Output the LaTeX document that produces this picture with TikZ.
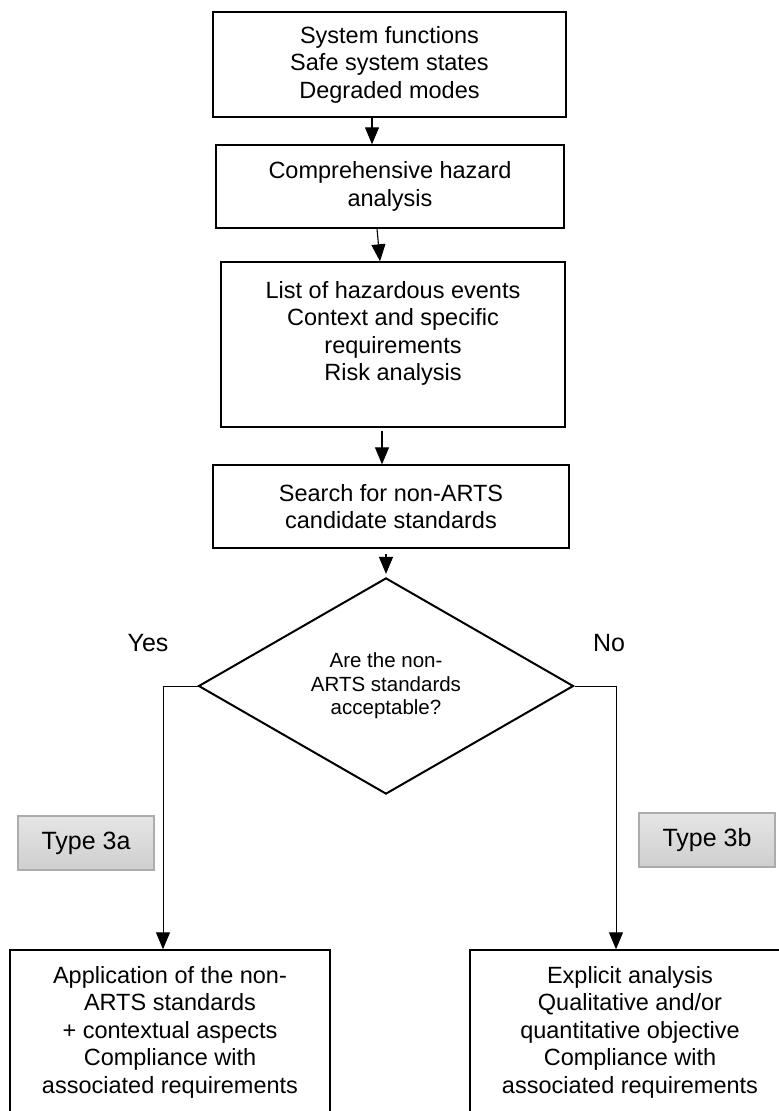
\documentclass[tikz,border=0pt]{standalone}
\usepackage{fontspec}
\setmainfont{Liberation Sans}
\usetikzlibrary{arrows.meta,shapes.geometric}
\newcommand{\bxfont}{\fontsize{23.5}{27.5}\selectfont}
\newcommand{\dmfont}{\fontsize{20.5}{23.5}\selectfont}
\newcommand{\lbfont}{\fontsize{25}{28}\selectfont}

\begin{document}
\begin{tikzpicture}[x=1pt,y=-1pt,
  stepbox/.style={draw,line width=1.4pt,align=center,inner sep=0pt,font=\bxfont},
  arr/.style={-{Triangle[length=17pt,width=14pt]},line width=1.1pt},
  typebox/.style={draw=gray!65,line width=1.2pt,top color=gray!20,bottom color=gray!38,
    minimum width=136pt,minimum height=54pt,inner sep=0pt,font=\lbfont}]
  \useasboundingbox (0,0) rectangle (779,1111);
  \clip (0,0) rectangle (779,1111);
  % main column
  \node[stepbox,minimum width=353pt,minimum height=105pt] (funcs) at (389.5,64.5)
    {System functions\\Safe system states\\Degraded modes};
  \node[stepbox,minimum width=348pt,minimum height=83pt] (hazan) at (390,186.5)
    {Comprehensive hazard\\analysis};
  \node[stepbox,minimum width=344pt,minimum height=165pt] (events) at (393,344.5)
    {List of hazardous events\\Context and specific\\requirements\\Risk analysis\\\mbox{}};
  \node[stepbox,minimum width=356pt,minimum height=83pt] (search) at (391,506.5)
    {Search for non-ARTS\\candidate standards};
  \node[diamond,draw,line width=2pt,align=center,inner sep=0pt,font=\dmfont,
    minimum width=375pt,minimum height=185pt] (accept) at (386,686)
    {Are the non-\\ARTS standards\\acceptable?};
  % branches
  \node[font=\lbfont] (yes) at (148,643) {Yes};
  \node[font=\lbfont] (no) at (609,643) {No};
  \coordinate (yescorner) at (163,686);
  \coordinate (nocorner) at (616,686);
  \node[typebox] (type3a) at (86,843) {Type 3a};
  \node[typebox] (type3b) at (707,840) {Type 3b};
  \node[stepbox,minimum width=320pt,minimum height=164pt] (applic) at (170,1032)
    {Application of the non-\\ARTS standards\\+ contextual aspects\\Compliance with\\associated requirements};
  \node[stepbox,minimum width=320pt,minimum height=164pt] (explic) at (630,1032)
    {Explicit analysis\\Qualitative and/or\\quantitative objective\\Compliance with\\associated requirements};
  % connectors
  \draw[arr] (funcs.south -| 372,0) -- (hazan.north -| 372,0);
  \draw[arr] (hazan.south -| 377,0) -- (events.north -| 380,0);
  \draw[arr,shorten <=3pt] (events.south -| 382,0) -- (search.north -| 382,0);
  \draw[arr,shorten <=5pt,shorten >=3pt] (search.south -| accept.north) -- (accept.north);
  \draw[arr,line width=1pt] (accept.west) -- (yescorner) -- (applic.north -| yescorner);
  \draw[arr,line width=1pt] (accept.east) -- (nocorner) -- (explic.north -| nocorner);
\end{tikzpicture}
\end{document}
